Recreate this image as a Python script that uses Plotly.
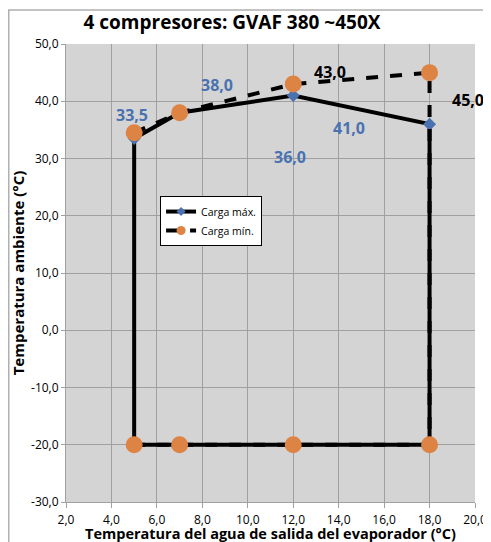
import plotly.graph_objects as go

# Data
max_x = [5, 5, 7, 12, 18, 18, 12, 7, 5]
max_y = [-20, 33.5, 38, 41, 36, -20, -20, -20, -20]
min_x = [5, 7, 12, 18, 18, 12, 7, 5]
min_y = [34.5, 38, 43, 45, -20, -20, -20, -20]
max_labels = [("33,5", 4.9, 37.6), ("38,0", 8.65, 42.8), ("41,0", 14.45, 35.3), ("36,0", 11.86, 30.3)]
min_labels = [("43,0", 13.6, 45.1), ("45,0", 19.7, 40.2)]
xticks = [2, 4, 6, 8, 10, 12, 14, 16, 18, 20]
yticks = [-30, -20, -10, 0, 10, 20, 30, 40, 50]

FONT = "Open Sans, Liberation Sans, sans-serif"
BLUE = "#4A72B0"
ORANGE = "#DD8445"

W, H = 483, 534
ML, MR, MT, MB = 58, 16, 36, 40
PW, PH = W - ML - MR, H - MT - MB

fig = go.Figure()
fig.add_trace(go.Scatter(
    x=max_x, y=max_y, mode="lines+markers", name="Carga máx.", showlegend=False,
    line=dict(color="black", width=4),
    marker=dict(symbol="diamond", size=10, color=BLUE),
    cliponaxis=False,
))
fig.add_trace(go.Scatter(
    x=min_x, y=min_y, mode="lines+markers", name="Carga mín.", showlegend=False,
    line=dict(color="black", width=4, dash="dash"),
    marker=dict(symbol="circle", size=17, color=ORANGE),
    cliponaxis=False,
))
# legend entries with smaller markers
fig.add_trace(go.Scatter(
    x=[None], y=[None], mode="lines+markers", name="Carga máx.",
    line=dict(color="black", width=4),
    marker=dict(symbol="diamond", size=7, color=BLUE),
))
fig.add_trace(go.Scatter(
    x=[None], y=[None], mode="lines+markers", name="Carga mín.",
    line=dict(color="black", width=4, dash="dash"),
    marker=dict(symbol="circle", size=9, color=ORANGE),
))

for t, x, y in max_labels:
    fig.add_annotation(x=x, y=y, text=t, showarrow=False,
                       font=dict(family=FONT, size=16, color=BLUE, weight="bold"))
for t, x, y in min_labels:
    fig.add_annotation(x=x, y=y, text=t, showarrow=False,
                       font=dict(family=FONT, size=16, color="black", weight="bold"))

# x-axis title placed explicitly
fig.add_annotation(xref="paper", yref="paper", x=0.5, y=-(525 - (H - MB)) / PH,
                   xanchor="center", yanchor="middle", showarrow=False,
                   text="<b>Temperatura del agua de salida del evaporador (°C)</b>",
                   font=dict(family=FONT, size=14.5, color="black"))

fig.add_shape(type="rect", xref="paper", yref="paper",
              x0=(0.75 - ML) / PW, x1=1.2, y0=-0.3, y1=(H - MB - 2) / PH,
              line=dict(color="#B0B0B0", width=1.5), layer="below")

fig.update_layout(
    width=W, height=H,
    margin=dict(l=ML, r=MR, t=MT, b=MB, autoexpand=False),
    paper_bgcolor="white",
    plot_bgcolor="#D4D4D4",
    title=dict(text="<b>4 compresores: GVAF 380 ~450X</b>", xref="container",
               x=224 / W, xanchor="center",
               yref="container", y=1 - 14 / H, yanchor="middle",
               font=dict(family=FONT, size=19, color="black")),
    showlegend=True,
    legend=dict(x=0.23, y=0.668, xanchor="left", yanchor="top",
                bgcolor="white", bordercolor="black", borderwidth=1,
                font=dict(family=FONT, size=10.5, color="black"),
                itemwidth=30, tracegroupgap=2),
    font=dict(family=FONT, color="black"),
)
fig.update_xaxes(range=[2, 20], tickvals=xticks, automargin=False,
                 ticktext=[f"{v:.1f}".replace(".", ",") for v in xticks],
                 showgrid=True, gridcolor="#A0A0A0", gridwidth=1,
                 showline=True, linecolor="#A0A0A0", ticks="outside", ticklen=5,
                 tickcolor="#A0A0A0", zeroline=False, ticklabelstandoff=2,
                 tickfont=dict(family=FONT, size=12))
fig.update_yaxes(range=[-30, 50], tickvals=yticks, automargin=False,
                 ticktext=[f"{v:.1f}".replace(".", ",") for v in yticks],
                 showgrid=True, gridcolor="#A0A0A0", gridwidth=1,
                 showline=True, linecolor="#A0A0A0", ticks="outside", ticklen=4,
                 tickcolor="#A0A0A0", zeroline=False,
                 tickfont=dict(family=FONT, size=12),
                 title=dict(text="<b>Temperatura ambiente (°C)</b>",
                            font=dict(family=FONT, size=15), standoff=4))

fig.write_html("out.html")
